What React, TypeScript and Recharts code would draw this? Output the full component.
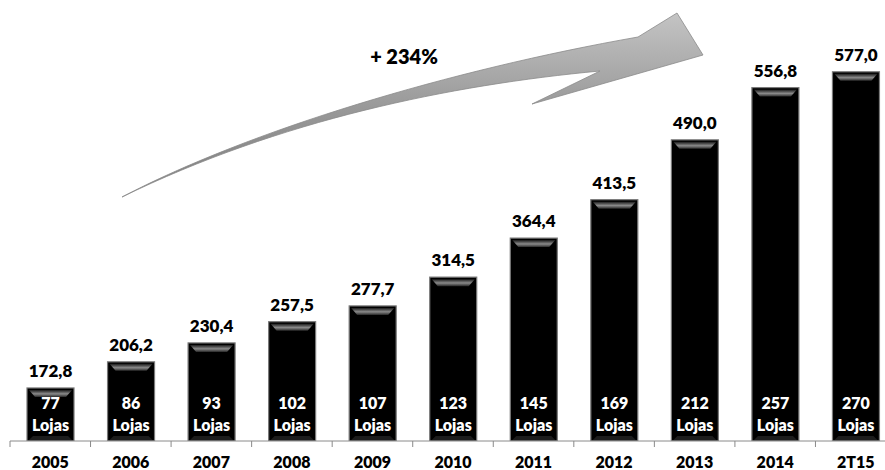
import { BarChart, Bar, XAxis, YAxis, LabelList } from "recharts";

const years = ["2005", "2006", "2007", "2008", "2009", "2010", "2011", "2012", "2013", "2014", "2T15"];
const revenue = [172.8, 206.2, 230.4, 257.5, 277.7, 314.5, 364.4, 413.5, 490.0, 556.8, 577.0];
const stores = [77, 86, 93, 102, 107, 123, 145, 169, 212, 257, 270];
const growthLabel = "+ 234%";

const data = years.map((year, i) => ({ year, revenue: revenue[i], stores: stores[i] }));

const FONT = "Lato, 'Open Sans', sans-serif";
const W = 800; // heavier weight, closer to the bold Calibri of the original
const CHART_W = 900;
const CHART_H = 470;
const MARGIN = { top: 10, right: 4, left: 10, bottom: 0 };
const BAND = (CHART_W - MARGIN.left - MARGIN.right) / years.length;

const fmt = (v: number) => v.toFixed(1).replace(".", ",");

// black bar with a bevelled grey highlight near the top
function BevelBar(props: any) {
  const { x, y, width, height } = props;
  if (!height || height <= 0) return <g />;
  return (
    <g>
      <rect x={x} y={y} width={width} height={height} fill="#000" stroke="#7a7a7a" strokeWidth={1.2} />
      <polygon
        points={`${x + 2},${y + 2} ${x + width - 2},${y + 2} ${x + width - 8},${y + 9} ${x + 8},${y + 9}`}
        fill="url(#barTop)"
      />
      <polygon
        points={`${x + 2},${y + height - 1} ${x + width - 2},${y + height - 1} ${x + width - 6},${y + height - 5} ${x + 6},${y + height - 5}`}
        fill="#1c1c1c"
      />
    </g>
  );
}

function StoresLabel(props: any) {
  const { x, y, width, height, value } = props;
  const cx = x + width / 2;
  const bottom = y + height;
  return (
    <g>
      <text x={cx} y={bottom - 32} textAnchor="middle" fill="#fff" fontFamily={FONT} fontWeight={W} fontSize={16}>
        {value}
      </text>
      <text x={cx} y={bottom - 10} textAnchor="middle" fill="#fff" fontFamily={FONT} fontWeight={W} fontSize={16}>
        Lojas
      </text>
    </g>
  );
}

function YearTick(props: any) {
  const { x, y, payload, index } = props;
  const left = x - BAND / 2;
  const last = index === years.length - 1;
  return (
    <g>
      <line x1={left} y1={y - 8} x2={left} y2={y - 2} stroke="#8a8a8a" />
      {last && <line x1={x + BAND / 2} y1={y - 8} x2={x + BAND / 2} y2={y - 2} stroke="#8a8a8a" />}
      <text x={x} y={y + 19} textAnchor="middle" fill="#000" fontFamily={FONT} fontWeight={W} fontSize={16}>
        {payload.value}
      </text>
    </g>
  );
}

export default function App() {
  return (
    <div style={{ position: "absolute", left: 0, top: 0, width: 885, height: 470, overflow: "hidden", background: "#fff" }}>
      <BarChart width={CHART_W} height={CHART_H} data={data} margin={MARGIN}>
        <defs>
          <linearGradient id="barTop" x1="0" y1="0" x2="0" y2="1">
            <stop offset="0%" stopColor="#1a1a1a" />
            <stop offset="55%" stopColor="#8a8a8a" />
            <stop offset="100%" stopColor="#2a2a2a" />
          </linearGradient>
        </defs>
        <XAxis
          dataKey="year"
          height={29}
          axisLine={{ stroke: "#8a8a8a" }}
          tickLine={false}
          interval={0}
          tick={<YearTick />}
        />
        <YAxis hide domain={[105, 656]} allowDataOverflow />
        <Bar dataKey="revenue" barSize={47} shape={<BevelBar />} isAnimationActive={false}>
          <LabelList
            dataKey="revenue"
            position="top"
            offset={11}
            formatter={(v: any) => fmt(Number(v))}
            style={{ fontFamily: FONT, fontWeight: W, fontSize: 17, fill: "#000" }}
          />
          <LabelList dataKey="stores" content={<StoresLabel />} />
        </Bar>
      </BarChart>
      <svg width={885} height={470} style={{ position: "absolute", left: 0, top: 0, pointerEvents: "none" }}>
        <defs>
          <linearGradient id="arrowFill" x1="0" y1="0" x2="0" y2="1">
            <stop offset="0%" stopColor="#c4c4c4" />
            <stop offset="50%" stopColor="#9a9a9a" />
            <stop offset="100%" stopColor="#7c7c7c" />
          </linearGradient>
        </defs>
        <path
          d="M122,197 C250,130 450,70 638,37 L677,13 L703,55 L532,104 L600,71 C450,85 280,120 122,197 Z"
          fill="url(#arrowFill)"
          stroke="#8a8a8a"
          strokeWidth={0.8}
        />
        <text x={404} y={64} textAnchor="middle" fontFamily={FONT} fontWeight={W} fontSize={20} fill="#000">
          {growthLabel}
        </text>
      </svg>
    </div>
  );
}
